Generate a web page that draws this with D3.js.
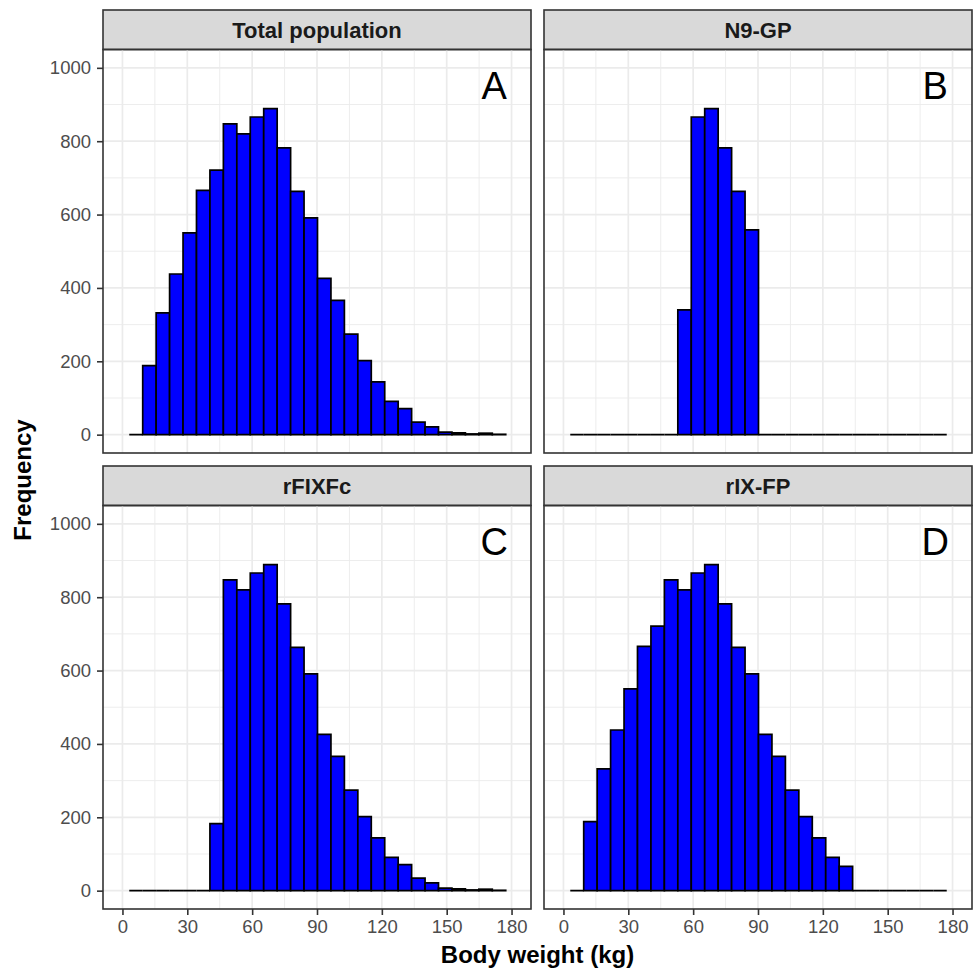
<!DOCTYPE html>
<html lang="en">
  <head>
    <meta charset="utf-8">
    <title>Body weight histograms</title>
    <script src="https://d3js.org/d3.v7.min.js"></script>
    <style>
      body { margin: 0; background: #fff; }
      text { font-family: "Liberation Sans", Arial, sans-serif; }
      .grid-major { stroke: #ebebeb; stroke-width: 1.7px; }
      .grid-minor { stroke: #ebebeb; stroke-width: 0.9px; }
      .tick-label { fill: #4d4d4d; font-size: 18.5px; }
      .strip-text { fill: #1a1a1a; font-size: 22px; font-weight: bold; }
      .axis-title { fill: #000; font-size: 24px; font-weight: bold; }
      .panel-letter { fill: #000; font-size: 38px; }
      .bar { fill: #0000ff; stroke: #000; stroke-width: 1.7px; }
    </style>
  </head>
  <body>
    <script>
      // histogram bins (kg): first lower edge and bin width
      var binStart = 3.15;
      var binWidth = 6.22;

      var facetLabels = ["Total population", "N9-GP", "rFIXFc", "rIX-FP"];
      var facetLetters = ["A", "B", "C", "D"];

      var countsTotal  = [0, 188, 332, 438, 550, 666, 721, 847, 820, 866, 889, 782, 663, 591,
                          426, 366, 274, 202, 144, 91, 71, 34, 21, 7, 5, 2, 4, 1];
      var countsN9GP   = [0, 0, 0, 0, 0, 0, 0, 0, 340, 866, 889, 782, 663, 558,
                          0, 0, 0, 0, 0, 0, 0, 0, 0, 0, 0, 0, 0, 0];
      var countsRFIXFc = [0, 0, 0, 0, 0, 0, 183, 847, 820, 866, 889, 782, 663, 591,
                          426, 366, 274, 202, 144, 91, 71, 34, 21, 7, 5, 2, 4, 1];
      var countsRIXFP  = [0, 188, 332, 438, 550, 666, 721, 847, 820, 866, 889, 782, 663, 591,
                          426, 366, 274, 202, 144, 91, 66, 0, 0, 0, 0, 0, 0, 0];
      var facetCounts = [countsTotal, countsN9GP, countsRFIXFc, countsRIXFP];

      var xTicks = [0, 30, 60, 90, 120, 150, 180];
      var xMinor = [15, 45, 75, 105, 135, 165];
      var yTicks = [0, 200, 400, 600, 800, 1000];
      var yMinor = [100, 300, 500, 700, 900];

      var w = 978, h = 969;
      var marginLeft = 103, marginTop = 10;
      var panelW = 428, panelH = 403.5, stripH = 39.5, gap = 13;

      var svg = d3.select("body").append("svg")
          .attr("width", w).attr("height", h);

      var x = d3.scaleLinear().domain([-9, 189]).range([0, panelW]);
      var y = d3.scaleLinear().domain([-50, 1050]).range([panelH, 0]);

      // bar outline as a closed path so empty bins still show as a line
      function barPath(d) {
        var p = d3.path();
        p.rect(x(d.x0), y(d.n), x(d.x1) - x(d.x0), y(0) - y(d.n));
        return p.toString();
      }

      facetLabels.forEach(function(label, i) {
        var col = i % 2, row = Math.floor(i / 2);
        var px = marginLeft + col * (panelW + gap);
        var py = marginTop + row * (stripH + panelH + gap);

        // strip
        svg.append("rect")
          .attr("x", px).attr("y", py)
          .attr("width", panelW).attr("height", stripH)
          .attr("fill", "#d9d9d9").attr("stroke", "#333").attr("stroke-width", 1.6);
        svg.append("text")
          .attr("class", "strip-text")
          .attr("x", px + panelW / 2).attr("y", py + stripH / 2)
          .attr("text-anchor", "middle").attr("dy", "0.36em")
          .text(label);

        var g = svg.append("g").attr("transform", "translate(" + px + "," + (py + stripH) + ")");

        // grid
        g.selectAll(".xminor").data(xMinor).enter().append("line")
          .attr("class", "grid-minor")
          .attr("x1", d => x(d)).attr("x2", d => x(d)).attr("y1", 0).attr("y2", panelH);
        g.selectAll(".yminor").data(yMinor).enter().append("line")
          .attr("class", "grid-minor")
          .attr("y1", d => y(d)).attr("y2", d => y(d)).attr("x1", 0).attr("x2", panelW);
        g.selectAll(".xmajor").data(xTicks).enter().append("line")
          .attr("class", "grid-major")
          .attr("x1", d => x(d)).attr("x2", d => x(d)).attr("y1", 0).attr("y2", panelH);
        g.selectAll(".ymajor").data(yTicks).enter().append("line")
          .attr("class", "grid-major")
          .attr("y1", d => y(d)).attr("y2", d => y(d)).attr("x1", 0).attr("x2", panelW);

        // bars
        var bins = facetCounts[i].map(function(c, k) {
          return { x0: binStart + k * binWidth, x1: binStart + (k + 1) * binWidth, n: c };
        });
        g.selectAll(".bar").data(bins).enter().append("path")
          .attr("class", "bar")
          .attr("d", barPath);

        // panel letter
        g.append("text")
          .attr("class", "panel-letter")
          .attr("x", x(172)).attr("y", y(915))
          .attr("text-anchor", "middle")
          .text(facetLetters[i]);

        // border
        g.append("rect")
          .attr("width", panelW).attr("height", panelH)
          .attr("fill", "none").attr("stroke", "#333").attr("stroke-width", 1.6);

        // axes on outer panels only
        if (col === 0) {
          var ya = g.append("g").call(d3.axisLeft(y).tickValues(yTicks)
              .tickFormat(d3.format("d")).tickSize(6).tickPadding(6));
          ya.select(".domain").remove();
          ya.selectAll("line").attr("stroke", "#333").attr("stroke-width", 1.6);
          ya.selectAll("text").attr("class", "tick-label").attr("font-family", null).attr("font-size", null).attr("fill", null);
        }
        if (row === 1) {
          var xa = g.append("g").attr("transform", "translate(0," + panelH + ")")
            .call(d3.axisBottom(x).tickValues(xTicks).tickSize(6).tickPadding(5));
          xa.select(".domain").remove();
          xa.selectAll("line").attr("stroke", "#333").attr("stroke-width", 1.6);
          xa.selectAll("text").attr("class", "tick-label").attr("font-family", null).attr("font-size", null).attr("fill", null);
        }
      });

      // axis titles
      svg.append("text")
        .attr("class", "axis-title")
        .attr("x", marginLeft + panelW + gap / 2).attr("y", 963)
        .attr("text-anchor", "middle")
        .text("Body weight (kg)");

      svg.append("text")
        .attr("class", "axis-title")
        .attr("transform", "translate(31,480) rotate(-90)")
        .attr("text-anchor", "middle")
        .text("Frequency");
    </script>
  </body>
</html>
